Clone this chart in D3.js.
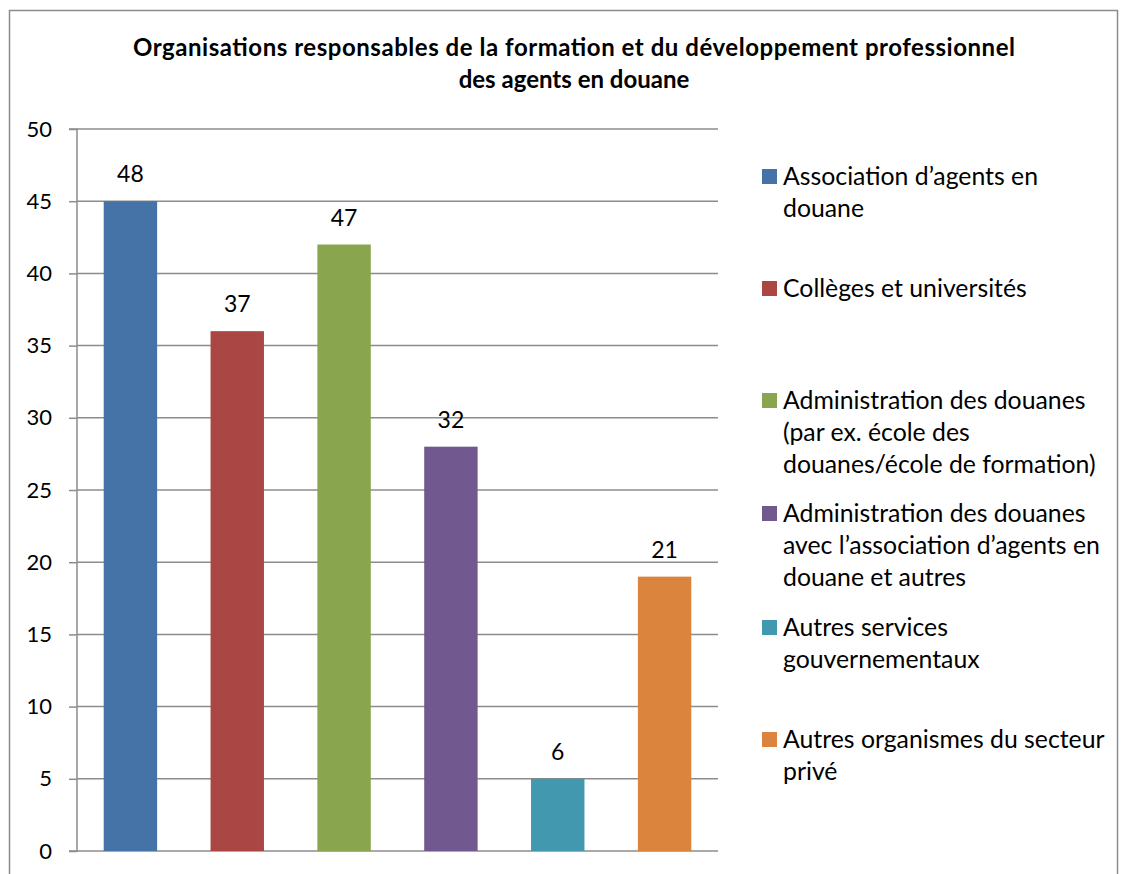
<!DOCTYPE html>
<html><head><meta charset="utf-8">
<script src="https://cdn.jsdelivr.net/npm/d3@7"></script>
<style>body{margin:0;background:#fff}svg{display:block}text{font-family:Lato,"Open Sans",sans-serif;fill:#000}</style>
</head><body>
<script>
const categories = ["Association d’agents en douane","Collèges et universités","Administration des douanes (par ex. école des douanes/école de formation)","Administration des douanes avec l’association d’agents en douane et autres","Autres services gouvernementaux","Autres organismes du secteur privé"];
const legendLines = [["Association d’agents en","douane"],["Collèges et universités"],["Administration des douanes","(par ex. école des","douanes/école de formation)"],["Administration des douanes","avec l’association d’agents en","douane et autres"],["Autres services","gouvernementaux"],["Autres organismes du secteur","privé"]];
const barValues = [45, 36, 42, 28, 5, 19];
const labelValues = [48, 37, 47, 32, 6, 21];
const colors = ["#4572A7","#AA4643","#89A54E","#71588F","#4198AF","#DB843D"];
const yTicks = [0,5,10,15,20,25,30,35,40,45,50];
const titleLines = ["Organisations responsables de la formation et du développement professionnel","des agents en douane"];

const W=1124,H=874;
const svg=d3.select("body").append("svg").attr("width",W).attr("height",H);
svg.append("rect").attr("x",9.5).attr("y",10.5).attr("width",1108).attr("height",880).attr("fill","#fff").attr("stroke","#8c8c8c").attr("stroke-width",1.5);

const x0=77,x1=718,yTop=129,yBot=851;
const x=d3.scaleBand().domain(categories).range([x0,x1]).paddingInner(0.5).paddingOuter(0.25);
const y=d3.scaleLinear().domain([0,50]).range([yBot,yTop]);

svg.append("g").selectAll("line").data(yTicks).join("line")
 .attr("x1",x0).attr("x2",x1).attr("y1",d=>y(d)).attr("y2",d=>y(d))
 .attr("stroke","#8c8c8c").attr("stroke-width",1.5);
const ya=svg.append("g").attr("transform",`translate(${x0},0)`).call(d3.axisLeft(y).tickValues(yTicks).tickSize(8).tickPadding(17));
ya.select(".domain").attr("stroke","#8c8c8c").attr("stroke-width",1.5).attr("d",`M-8,${yTop}H0V${yBot}H-8`);
ya.selectAll(".tick line").attr("stroke","#8c8c8c").attr("stroke-width",1.5);
ya.selectAll(".tick text").attr("font-size",22).attr("font-family","Lato, sans-serif").attr("fill","#000");

svg.append("g").selectAll("rect").data(categories).join("rect")
 .attr("x",d=>x(d)).attr("width",x.bandwidth())
 .attr("y",(d,i)=>y(barValues[i])).attr("height",(d,i)=>yBot-y(barValues[i]))
 .attr("fill",(d,i)=>colors[i]);

svg.append("g").selectAll("text").data(categories).join("text")
 .attr("x",d=>x(d)+x.bandwidth()/2).attr("y",(d,i)=>y(barValues[i])-19)
 .attr("text-anchor","middle").attr("font-size",23).text((d,i)=>labelValues[i]);

svg.append("g").selectAll("text").data(titleLines).join("text")
 .attr("x",574).attr("y",(d,i)=>56+i*32).attr("text-anchor","middle")
 .attr("font-size",24).attr("font-weight","bold").text(d=>d)
 .each(function(d,i){ if(i===0) d3.select(this).attr("textLength",882).attr("lengthAdjust","spacing"); });

const legTop=[169,281,393,506,620,732];
const lg=svg.append("g").selectAll("g").data(categories).join("g")
 .attr("transform",(d,i)=>`translate(762,${legTop[i]})`);
lg.append("rect").attr("width",15).attr("height",15).attr("fill",(d,i)=>colors[i]);
lg.append("text").attr("x",21).attr("font-size",24.8)
 .selectAll("tspan").data((d,i)=>legendLines[i]).join("tspan")
 .attr("x",21).attr("y",(d,j)=>16+j*32).text(d=>d);
</script>
</body></html>
